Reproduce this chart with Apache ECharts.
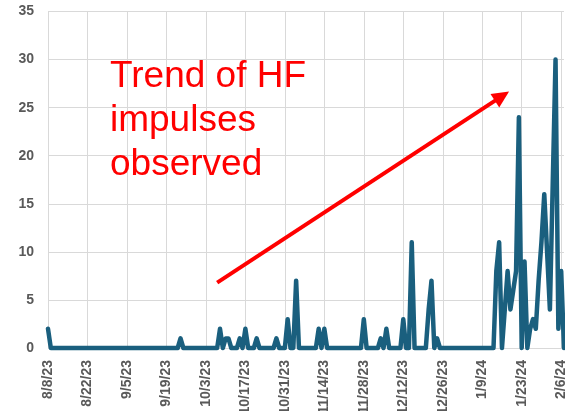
<!DOCTYPE html>
<html>
<head>
<meta charset="utf-8">
<script src="https://cdn.jsdelivr.net/npm/echarts@6.0.0/dist/echarts.min.js"></script>
<style>
  html, body { margin: 0; padding: 0; background: #fff; }
  #area { width: 565px; height: 411px; }
</style>
</head>
<body>
<div id="area"></div>
<script>
  // daily HF impulse counts, 8/8/23 onwards (one row = two weeks)
  var impulses = [
    2, 0, 0, 0, 0, 0, 0, 0, 0, 0, 0, 0, 0, 0,
    0, 0, 0, 0, 0, 0, 0, 0, 0, 0, 0, 0, 0, 0,
    0, 0, 0, 0, 0, 0, 0, 0, 0, 0, 0, 0, 0, 0,
    0, 0, 0, 0, 0, 1, 0, 0, 0, 0, 0, 0, 0, 0,
    0, 0, 0, 0, 0, 2, 0, 1, 1, 0, 0, 0, 1, 0,
    2, 0, 0, 0, 1, 0, 0, 0, 0, 0, 0, 1, 0, 0,
    0, 3, 0, 0, 7, 0, 0, 0, 0, 0, 0, 0, 2, 0,
    2, 0, 0, 0, 0, 0, 0, 0, 0, 0, 0, 0, 0, 0,
    3, 0, 0, 0, 0, 0, 1, 0, 2, 0, 0, 0, 0, 0,
    3, 0, 0, 11, 0, 0, 0, 0, 0, 4, 7, 0, 1, 0,
    0, 0, 0, 0, 0, 0, 0, 0, 0, 0, 0, 0, 0, 0,
    0, 0, 0, 0, 0, 8, 11, 0, 4, 8, 4, 6, 8, 24,
    0, 9, 0, 2, 3, 2, 7, 11, 16, 10, 4, 17, 30, 2,
    8, 0
  ];

  // labels every 14 days
  var tickLabels = ['8/8/23', '8/22/23', '9/5/23', '9/19/23', '10/3/23', '10/17/23', '10/31/23',
    '11/14/23', '11/28/23', '12/12/23', '12/26/23', '1/9/24', '1/23/24', '2/6/24'];

  var yTicks = [0, 5, 10, 15, 20, 25, 30, 35];

  // arrow start / end, in (day index, value)
  var arrowFrom = [60, 6.8];
  var arrowTo = [160.6, 26.2];

  var noteText = 'Trend of HF\nimpulses\nobserved';

  // one category per day
  var days = impulses.map(function (v, i) {
    var d = new Date(2023, 7, 8 + i);
    return (d.getMonth() + 1) + '/' + d.getDate() + '/' + String(d.getFullYear()).slice(2);
  });

  var chart = echarts.init(document.getElementById('area'), null, { renderer: 'canvas' });

  chart.setOption({
    animation: false,
    grid: {
      left: 48,
      right: 1,
      top: 11.5,
      bottom: 63,
      containLabel: false,
      outerBoundsMode: 'none' // labels run off the bottom edge, like the original
    },
    xAxis: {
      type: 'category',
      boundaryGap: false,
      data: days,
      axisLine: { show: false },
      axisTick: { show: false },
      axisLabel: {
        interval: 13,
        rotate: 90,
        margin: 12,
        color: '#595959',
        fontSize: 14,
        fontWeight: 'bold',
        fontFamily: 'Liberation Sans',
        formatter: function (value, index) {
          return tickLabels[Math.round(index / 14)];
        }
      },
      splitLine: {
        show: true,
        interval: 13,
        lineStyle: { color: '#d9d9d9', width: 1 }
      }
    },
    yAxis: {
      type: 'value',
      min: yTicks[0],
      max: yTicks[yTicks.length - 1],
      interval: 5,
      axisLine: { show: false },
      axisTick: { show: false },
      axisLabel: {
        margin: 14,
        color: '#595959',
        fontSize: 14,
        fontWeight: 'bold',
        fontFamily: 'Liberation Sans'
      },
      splitLine: {
        lineStyle: { color: '#d9d9d9', width: 1 }
      }
    },
    series: [{
      type: 'line',
      data: impulses,
      showSymbol: false,
      symbol: 'none',
      clip: false,
      lineStyle: { color: '#1a5f7e', width: 4.5, join: 'round', cap: 'round' },
      markLine: {
        silent: true,
        symbol: ['none', 'triangle'],
        symbolSize: [16, 17],
        label: { show: false },
        emphasis: { disabled: true },
        lineStyle: { color: '#ff0000', width: 4, type: 'solid' },
        itemStyle: { color: '#ff0000' },
        data: [[{ coord: arrowFrom }, { coord: arrowTo }]]
      }
    }],
    // annotation text sits above the grid lines
    graphic: [{
      type: 'text',
      left: 110,
      top: 55,
      z: 100,
      silent: true,
      style: {
        text: noteText,
        fill: '#ff0000',
        font: '37px "Liberation Sans"',
        lineHeight: 44
      }
    }]
  });
</script>
</body>
</html>
